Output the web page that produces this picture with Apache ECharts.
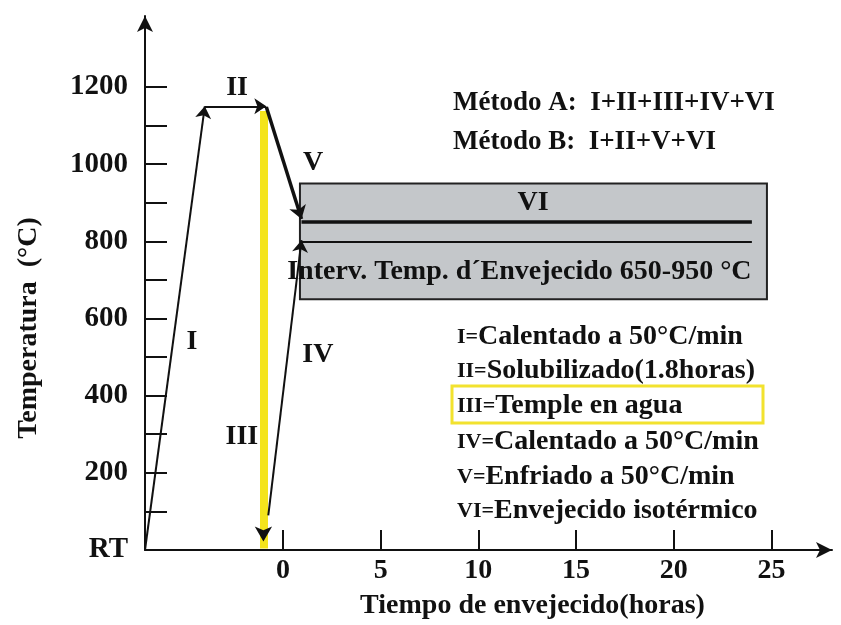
<!DOCTYPE html>
<html>
<head>
<meta charset="utf-8">
<script src="https://cdn.jsdelivr.net/npm/echarts@6/dist/echarts.min.js"></script>
<style>
  html, body { margin: 0; padding: 0; background: #fff; }
  #chart { width: 841px; height: 625px; }
</style>
</head>
<body>
<div id="chart"></div>
<script>
// axis ticks / labels
const timeTicks = [0, 5, 10, 15, 20, 25];
const tempTicks = [100, 200, 300, 400, 500, 600, 700, 800, 900, 1000, 1100, 1200];
const tempLabelValues = [0, 200, 400, 600, 800, 1000, 1200];
const tempLabelText = ['RT', '200', '400', '600', '800', '1000', '1200'];

// process path segments [time (h), temperature (°C)]
const stageI = [[-7.06, 0], [-4.0, 1150]];
const stageII = [[-4.0, 1150], [-0.85, 1150]];
const stageIII = [[-1.0, 1138], [-1.0, 4]];
const stageIV = [[-0.75, 90], [0.95, 803]];
const stageV = [[-0.85, 1148], [0.95, 858]];
const stageVI = [[0.95, 850], [24.0, 850]];
const line800 = [[0.95, 800], [24.0, 800]];
const agingRange = [[0.87, 650], [24.77, 950]];

// stage names and where they sit (data units)
const stageNames = ['I', 'II', 'III', 'IV', 'V', 'VI'];
const stageNameAt = [[-4.66, 539], [-2.35, 1197], [-2.1, 293], [1.79, 505], [1.54, 1003], [12.8, 899]];
const rangeText = 'Interv. Temp. d\u00b4Envejecido 650-950 \u00b0C';
const rangeTextAt = [12.1, 720];

const methodLines = ['M\u00e9todo A:  I+II+III+IV+VI', 'M\u00e9todo B:  I+II+V+VI'];
const legendKeys = ['I=', 'II=', 'III=', 'IV=', 'V=', 'VI='];
const legendText = ['Calentado a 50\u00b0C/min', 'Solubilizado(1.8horas)', 'Temple en agua',
  'Calentado a 50\u00b0C/min', 'Enfriado a 50\u00b0C/min', 'Envejecido isot\u00e9rmico'];

const FONT = '"Liberation Serif", "Times New Roman", serif';
const INK = '#111';

const chart = echarts.init(document.getElementById('chart'));

const seg = (pts, arrow) => [
  { coord: pts[0], symbol: 'none' },
  { coord: pts[1], symbol: arrow ? 'arrow' : 'none' }
];

const legendGraphics = [];
methodLines.forEach((t, i) => {
  legendGraphics.push({
    type: 'text', x: 453, y: 103 + i * 39,
    style: { text: t, font: 'bold 27px ' + FONT, fill: INK, verticalAlign: 'middle' }
  });
});
legendKeys.forEach((k, i) => {
  const ys = [337, 371, 406, 442, 477, 511];
  legendGraphics.push({
    type: 'text', x: 457, y: ys[i],
    style: {
      text: '{k|' + k + '}{t|' + legendText[i] + '}',
      verticalAlign: 'middle',
      rich: {
        k: { font: 'bold 22px ' + FONT, fill: INK },
        t: { font: 'bold 28px ' + FONT, fill: INK }
      }
    }
  });
});
legendGraphics.push({
  type: 'rect', shape: { x: 452, y: 386, width: 311, height: 37 },
  style: { fill: 'none', stroke: '#f2e22e', lineWidth: 3 }
});

const option = {
  animation: false,
  backgroundColor: '#fff',
  grid: { left: 145, right: 9, top: 16, bottom: 75 },
  xAxis: {
    type: 'value', min: -7.06, max: 28.1,
    name: 'Tiempo de envejecido(horas)',
    nameLocation: 'middle', nameGap: 42,
    nameTextStyle: { fontFamily: FONT, fontWeight: 'bold', fontSize: 28, color: INK, padding: [0, 0, 0, 88] },
    axisLine: { onZero: false, symbol: ['none', 'arrow'], symbolSize: [12, 16], lineStyle: { color: INK, width: 2 } },
    axisTick: { show: true, inside: true, length: 20, customValues: timeTicks, lineStyle: { color: INK, width: 2 } },
    axisLabel: { customValues: timeTicks, margin: 7, fontFamily: FONT, fontWeight: 'bold', fontSize: 28, color: INK },
    splitLine: { show: false }
  },
  yAxis: {
    type: 'value', min: 0, max: 1384,
    name: 'Temperatura  (\u00b0C)',
    nameLocation: 'middle', nameRotate: 90, nameGap: 102,
    nameTextStyle: { fontFamily: FONT, fontWeight: 'bold', fontSize: 28, color: INK, padding: [0, 90, 0, 0] },
    axisLine: { onZero: false, symbol: ['none', 'arrow'], symbolSize: [12, 16], lineStyle: { color: INK, width: 2 } },
    axisTick: { show: true, inside: true, length: 22, customValues: tempTicks, lineStyle: { color: INK, width: 2 } },
    axisLabel: {
      customValues: tempLabelValues, margin: 17,
      fontFamily: FONT, fontWeight: 'bold', fontSize: 29, color: INK,
      formatter: v => tempLabelText[tempLabelValues.indexOf(v)]
    },
    splitLine: { show: false }
  },
  series: [
    {
      type: 'scatter', data: [], silent: true,
      markArea: {
        silent: true,
        itemStyle: { color: '#c4c7ca', borderColor: '#222', borderWidth: 2 },
        label: { show: false },
        data: [[{ coord: agingRange[0] }, { coord: agingRange[1] }]]
      }
    },
    {
      type: 'scatter', data: [], silent: true,
      markLine: {
        silent: true, symbolSize: 12,
        label: { show: false },
        lineStyle: { color: '#f4e41c', width: 8, type: 'solid' },
        data: [seg(stageIII, false)]
      }
    },
    {
      type: 'scatter', data: [], silent: true,
      markLine: {
        silent: true, symbolSize: 12,
        label: { show: false },
        lineStyle: { color: INK, width: 2, type: 'solid' },
        data: [seg(stageI, true), seg(stageII, true), seg(stageIV, true), seg(line800, false)]
      }
    },
    {
      type: 'scatter', data: [], silent: true,
      markLine: {
        silent: true, symbolSize: 13,
        label: { show: false },
        lineStyle: { color: INK, width: 3.5, type: 'solid' },
        data: [seg(stageV, true), seg(stageVI, false)]
      }
    },
    {
      // arrow head at the end of the quench
      type: 'scatter', silent: true, z: 20, zlevel: 1,
      symbol: 'arrow', symbolRotate: 180, symbolSize: [13, 15], symbolOffset: [0, -7],
      itemStyle: { color: INK, opacity: 1 },
      data: [stageIII[1]]
    },
    {
      type: 'scatter', silent: true, symbolSize: 0, z: 20,
      itemStyle: { opacity: 1 },
      label: {
        show: true, position: 'inside', opacity: 1,
        fontFamily: FONT, fontWeight: 'bold', fontSize: 28, color: INK,
        formatter: p => p.value[2]
      },
      data: stageNameAt.map((p, i) => [p[0], p[1], stageNames[i]]).concat([[rangeTextAt[0], rangeTextAt[1], rangeText]])
    }
  ],
  graphic: legendGraphics
};

chart.setOption(option);
</script>
</body>
</html>
